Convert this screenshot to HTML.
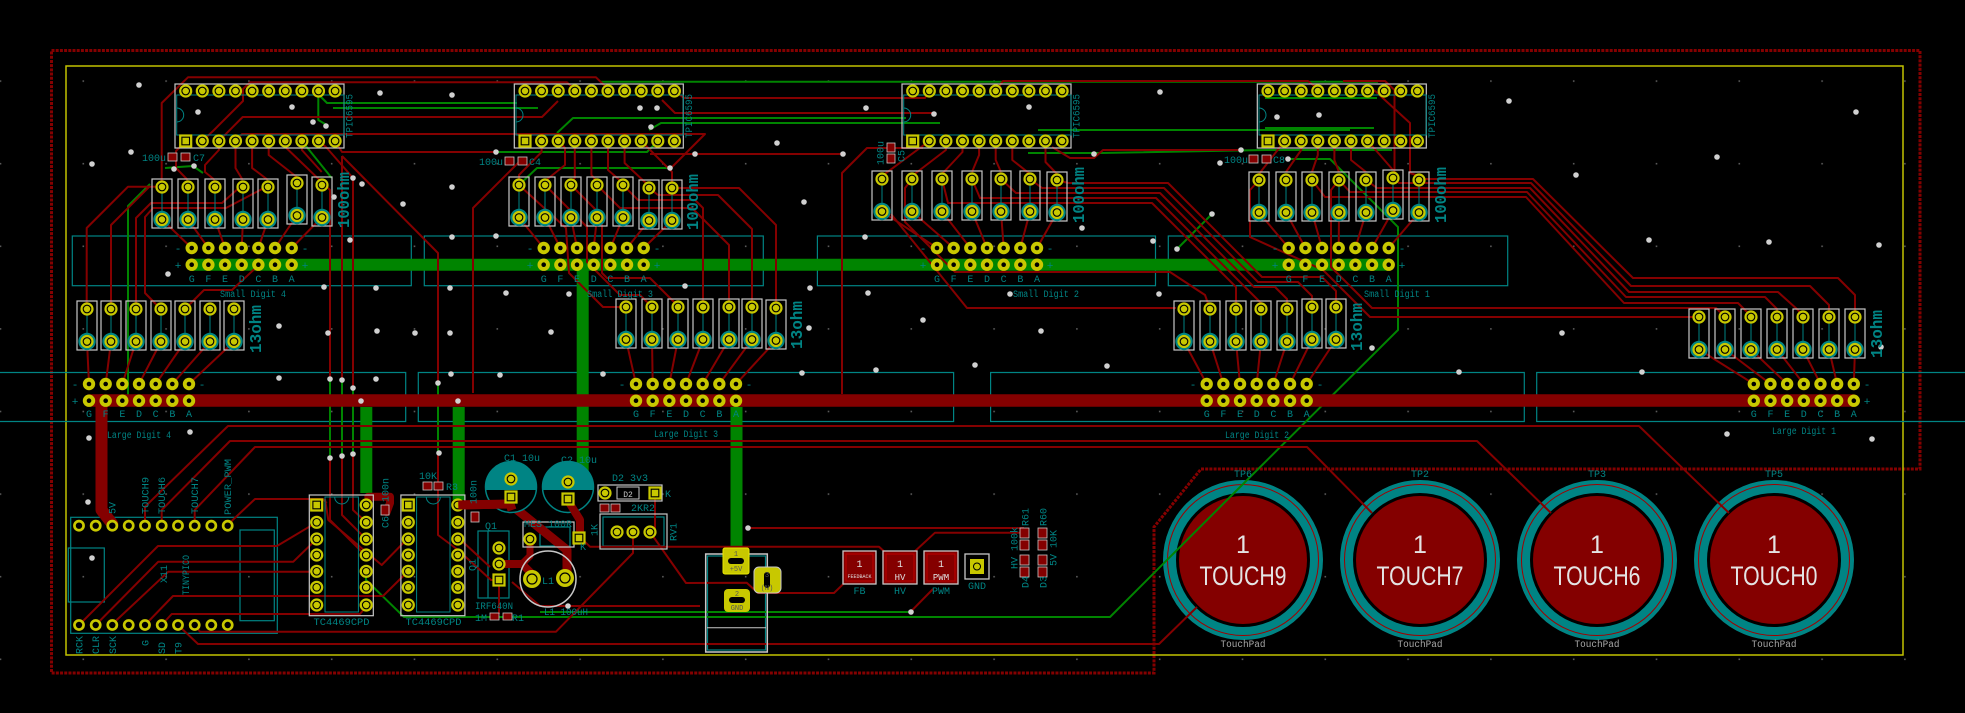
<!DOCTYPE html>
<html><head><meta charset="utf-8"><style>
html,body{margin:0;padding:0;background:#000;}
svg{display:block;}
text{font-family:"Liberation Mono","DejaVu Sans Mono",monospace;}
</style></head><body>
<svg width="1965" height="713" viewBox="0 0 1965 713" xmlns="http://www.w3.org/2000/svg">
<defs>
<pattern id="grid" x="-0.3" y="-2.3" width="82.8" height="82.6" patternUnits="userSpaceOnUse"><rect x="0" y="0" width="1.6" height="1.6" fill="#5a5a5a"/></pattern>
<g id="p"><circle r="6.6" fill="#c8c800"/><circle r="3.8" fill="none" stroke="#000" stroke-width="1.1"/></g>
<g id="q"><rect x="-6.6" y="-6.6" width="13.2" height="13.2" fill="#c8c800"/><rect x="-3.8" y="-3.8" width="7.6" height="7.6" fill="none" stroke="#000" stroke-width="1.1"/></g>
<g id="d"><circle r="6.2" fill="#c8c800"/><circle r="2.3" fill="#000"/></g>
<g id="t"><circle r="5.9" fill="#c8c800"/><circle r="3.2" fill="#000"/></g>
<g id="r"><rect x="-10" y="-8" width="20" height="49" fill="none" stroke="#c8c8c8" stroke-width="1.2"/><line x1="0" y1="6" x2="0" y2="26" stroke="#008484" stroke-width="1"/><circle cy="32.5" r="8.7" fill="#008484"/><use href="#p"/><use href="#p" y="32.5"/></g>
<g id="chip"><rect x="-10.7" y="-7" width="169" height="64" fill="none" stroke="#c8c8c8" stroke-width="1.2"/><rect x="-9" y="4" width="167.3" height="40" fill="none" stroke="#008484" stroke-width="1"/><path d="M-9,17a7,7 0 0 1 0,14" fill="none" stroke="#008484" stroke-width="1"/>
<use href="#p"/><use href="#p" x="16.6"/><use href="#p" x="33.2"/><use href="#p" x="49.8"/><use href="#p" x="66.4"/><use href="#p" x="83"/><use href="#p" x="99.6"/><use href="#p" x="116.2"/><use href="#p" x="132.8"/><use href="#p" x="149.4"/>
<use href="#q" y="50"/><use href="#p" x="16.6" y="50"/><use href="#p" x="33.2" y="50"/><use href="#p" x="49.8" y="50"/><use href="#p" x="66.4" y="50"/><use href="#p" x="83" y="50"/><use href="#p" x="99.6" y="50"/><use href="#p" x="116.2" y="50"/><use href="#p" x="132.8" y="50"/><use href="#p" x="149.4" y="50"/></g>
<g id="row"><use href="#d"/><use href="#d" x="16.67"/><use href="#d" x="33.33"/><use href="#d" x="50"/><use href="#d" x="66.67"/><use href="#d" x="83.33"/><use href="#d" x="100"/>
<use href="#d" y="16.7"/><use href="#d" x="16.67" y="16.7"/><use href="#d" x="33.33" y="16.7"/><use href="#d" x="50" y="16.7"/><use href="#d" x="66.67" y="16.7"/><use href="#d" x="83.33" y="16.7"/><use href="#d" x="100" y="16.7"/></g>
<g id="tc"><rect x="-7.4" y="-10" width="64" height="120.7" fill="none" stroke="#c8c8c8" stroke-width="1.2"/><rect x="8.3" y="-8" width="33.4" height="115" fill="none" stroke="#008484" stroke-width="1"/><path d="M18,-8a7,7 0 0 0 14,0" fill="none" stroke="#008484"/>
<use href="#q"/><use href="#p" y="17.3"/><use href="#p" y="34"/><use href="#p" y="50"/><use href="#p" y="66.3"/><use href="#p" y="82.3"/><use href="#p" y="100"/>
<use href="#p" x="49.5"/><use href="#p" x="49.5" y="17.3"/><use href="#p" x="49.5" y="34"/><use href="#p" x="49.5" y="50"/><use href="#p" x="49.5" y="66.3"/><use href="#p" x="49.5" y="82.3"/><use href="#p" x="49.5" y="100"/></g>
<g id="tp"><circle r="80" fill="#008484"/><circle r="67" fill="#000"/><circle r="64" fill="#840000"/><circle r="75.5" fill="none" stroke="#a00000" stroke-width="1"/></g>
</defs>

<rect width="1965" height="713" fill="#000"/>
<rect width="1965" height="713" fill="url(#grid)"/>

<!-- board outlines -->
<path d="M51.5,50.5 L1920,50.5 L1920,469 L1201,469 L1154,527 L1154,673 L51.5,673 Z" fill="none" stroke="#840000" stroke-width="3" stroke-dasharray="3 1.2"/>
<rect x="66" y="66" width="1837" height="589" fill="none" stroke="#c2c200" stroke-width="1.5"/>

<!-- teal display boxes -->
<g fill="none" stroke="#008484" stroke-width="1.2">
<rect x="72.3" y="236" width="339" height="49.7"/>
<rect x="424.3" y="236" width="339" height="49.7"/>
<rect x="817.4" y="236" width="338.1" height="49.7"/>
<rect x="1168.3" y="236" width="339.4" height="49.7"/>
<path d="M0,372.5 H405.7 V421.5 H0 M418.3,372.5 H953.6 V421.5 H418.3 Z M990.6,372.5 H1524.3 V421.5 H990.6 Z M1965,372.5 H1536.7 V421.5 H1965"/>
<rect x="70.7" y="517.3" width="206.6" height="116"/>
<rect x="68.3" y="548" width="36" height="54"/>
<rect x="240" y="530" width="34.3" height="90.7"/>
<rect x="478" y="531" width="31" height="67"/>
<line x1="488" y1="531" x2="488" y2="598"/>
<rect x="540" y="527" width="30" height="19"/>
<rect x="603" y="517" width="61" height="29"/>
<rect x="707.5" y="556" width="58" height="94"/>
</g>

<!-- touch pads -->
<use href="#tp" x="1243" y="560"/>
<use href="#tp" x="1420" y="560"/>
<use href="#tp" x="1597" y="560"/>
<use href="#tp" x="1774" y="560"/>

<!-- thick green -->
<g stroke="#008400" stroke-linecap="round" fill="none">
<line x1="192.7" y1="264.7" x2="1387" y2="264.7" stroke-width="12"/>
<line x1="582.7" y1="264" x2="582.7" y2="490" stroke-width="12" stroke-linecap="butt"/>
<line x1="366.3" y1="407" x2="366.3" y2="493" stroke-width="12" stroke-linecap="butt"/>
<line x1="458.7" y1="407" x2="458.7" y2="500" stroke-width="12" stroke-linecap="butt"/>
<line x1="736.5" y1="407" x2="736.5" y2="547" stroke-width="12" stroke-linecap="butt"/>
</g>

<!-- thin green traces -->
<g stroke="#008400" stroke-width="2" fill="none" stroke-linejoin="round">
<polyline points="600,81.7 1378,81.7"/>
<polyline points="317,93 327,103 517,103"/>
<polyline points="333,108 538,108"/>
<polyline points="496,152 647,152 658,141"/>
<polyline points="519,185 537,168 670,168"/>
<polyline points="557,133 573,118 906,118"/>
<polyline points="649,130 661,123 940,123"/>
<polyline points="1038,130 1350,130"/>
<polyline points="1265,98 1377,98"/>
<polyline points="1265,128 1374,128"/>
<polyline points="1028,153 1100,153 1265,150 1392,150"/>
<polyline points="1287,159 1330,159 1398,227 1398,330 1230,497 1110,617 404,617 366,580 366,572"/>
<polyline points="540,612 911,612"/>
<polyline points="150,184 128,206 128,395"/>
<polyline points="165,168 193,166 203,173"/>
<polyline points="301.9,141 331.7,178"/>
<polyline points="318.3,95 318.3,120 326.7,125"/>
<polyline points="330,379 330,458"/>
<polyline points="342,380 342,456"/>
<polyline points="353,388 353,454"/>
<polyline points="438,383 438,453"/>
<polyline points="1212,214 1177,249"/>
</g>

<!-- thin red traces -->
<g stroke="#840000" stroke-width="2" fill="none" stroke-linejoin="round">
<polyline points="161.7,186.7 161.7,103 188,77.3 596,77.3 608,89"/>
<polyline points="202.3,141 213,131 243,101 243,89 250,82.3 567,82.3 575,90"/>
<polyline points="218.9,141 242.7,117 542,117 558,101"/>
<polyline points="235.5,141 242,134 705,134 672,167"/>
<polyline points="335.1,141 342,152 496,152"/>
<polyline points="342,156 342,380"/>
<polyline points="342,156 438,253 438,383"/>
<polyline points="473,393 473,208 513,168 520,161"/>
<polyline points="285.3,141 285.3,147 330,190 330,379"/>
<polyline points="318.5,141 326,147 353,178 353,388"/>
<polyline points="86.7,309 86.7,228 128,186.7 162,186.7"/>
<polyline points="111,309 111,225 150,186"/>
<polyline points="136,309 136,218 151,203 222,203 240,187"/>
<polyline points="160.7,309 145,293 145,217 153,208 226,208 266,187"/>
<polyline points="185,309 204,290 232,290 262,262"/>
<polyline points="235.5,141 235.5,168 242.7,180"/>
<polyline points="252.1,141 252.1,168 268,180"/>
<polyline points="268.7,141 268.7,155 296.7,177"/>
<polyline points="301.9,141 301.9,150 321.7,172"/>
<polyline points="185.7,141 176,151 176,168 187.7,180"/>
<polyline points="218.9,141 218.9,150 205,165 205,172 214.7,180"/>
<path d="M162,219.5L191.7,248M188,219.5L208.4,248M215,219.5L225,248M243,219.5L241.7,248M268,219.5L258.4,248M296.7,215.5L275,248M321.7,217.5L291.7,248"/>
<path d="M87,341.5L89,384M111,341.5L105.7,384M136,341.5L122.3,384M161,341.5L139,384M185,341.5L155.7,384M210,341.5L172.3,384M234,341.5L189,384"/>
<polyline points="558.2,141 565,148 565,165 545,181"/>
<polyline points="574.8,141 574.8,178 570.7,183"/>
<polyline points="591.4,141 591.4,175 597,181"/>
<polyline points="608,141 608,170 623,183"/>
<polyline points="624.6,141 624.6,163 649,186"/>
<polyline points="641.2,141 672,172 672,186"/>
<polyline points="541.6,141 541.6,152 519,175 519,183"/>
<path d="M519,217.5L543.7,248M545,217.5L560.4,248M571,217.5L577,248M597,217.5L593.7,248M623,217.5L610.4,248M649,220.5L627,248M672,220.5L643.7,248"/>
<polyline points="672,188 739,188 776,225 776,308"/>
<polyline points="649,188 658,195 718,195 752,229 752,307"/>
<polyline points="623,185 638,200 695,200 703,208 703,307"/>
<polyline points="597,185 620,208 692,208 729,245 729,307"/>
<polyline points="571,185 602,216 602,273 607,278 650,278 678,306"/>
<polyline points="545,185 587,227 587,262 620,295 640,295 652,307"/>
<polyline points="519,185 566,228 569,273 603,307 626,307"/>
<path d="M626,339.5L636,384M652,339.5L652.7,384M678,339.5L669.3,384M703,339.5L686,384M729,339.5L702.7,384M752,339.5L719.3,384M776,340.5L736,384"/>
<polyline points="929.3,141 882,176"/>
<polyline points="945.9,141 945.9,150 912,176"/>
<polyline points="962.5,141 962.5,152 942,174"/>
<polyline points="979.1,141 979.1,155 972,172"/>
<polyline points="995.7,141 995.7,160 1001,172"/>
<polyline points="1012.3,141 1012.3,160 1030,174"/>
<polyline points="1045.5,141 1045.5,162 1057,174"/>
<path d="M882,211.5L937,248M912,211.5L953.7,248M942,211.5L970.3,248M972,211.5L987,248M1001,211.5L1003.7,248M1030,211.5L1020.3,248M1057,212.5L1037,248"/>
<polyline points="1057,180 1068,183 1168,183 1262,277 1322,277 1336,291 1336,307"/>
<polyline points="1030,179 1042,188 1164,188 1258,282 1298,282 1312,296 1312,307"/>
<polyline points="1001,179 1016,193 1160,193 1254,287 1275,287 1287,299 1287,309"/>
<polyline points="972,179 980,198 1156,198 1251,293 1261,303 1261,309"/>
<polyline points="942,179 948,203 1152,203 1236,287 1236,309"/>
<polyline points="912,179 905,188 905,222 955,272 1170,272 1205,295 1210,309"/>
<polyline points="891,214 967,308 1176,308"/>
<path d="M1184,341.5L1206.7,384M1210,341.5L1223.4,384M1236,341.5L1240,384M1261,341.5L1256.7,384M1287,341.5L1273.4,384M1312,339.5L1290,384M1336,339.5L1306.7,384"/>
<polyline points="1284.6,141 1259,174"/>
<polyline points="1301.2,141 1301.2,150 1286,172"/>
<polyline points="1317.8,141 1317.8,155 1312,172"/>
<polyline points="1334.4,141 1334.4,160 1339,172"/>
<polyline points="1351,141 1351,160 1366,172"/>
<polyline points="1367.6,141 1380,155 1393,170"/>
<polyline points="1343,81 1385,81 1394.5,90 1394.5,173"/>
<polyline points="1374,90 1410,123 1410,173 1419,176"/>
<path d="M1259,212.5L1288.7,248M1286,212.5L1305.4,248M1312,212.5L1322,248M1339,212.5L1338.7,248M1366,212.5L1355.4,248M1393,210.5L1372,248M1419,212.5L1388.7,248"/>
<polyline points="1419,180 1426,179 1533,179 1633,278 1838,278 1855,295 1855,317"/>
<polyline points="1393,178 1399,183 1531,183 1631,286 1810,286 1829,305 1829,317"/>
<polyline points="1366,180 1377,188 1530,188 1629,292 1778,292 1798,310 1803,317"/>
<polyline points="1339,180 1350,192 1527,192 1626,297 1765,297 1777,309 1777,317"/>
<polyline points="1312,180 1325,197 1526,197 1624,303 1738,303 1751,316"/>
<polyline points="1339,180 1331,190 1331,267 1372,308 1716,308 1725,317"/>
<polyline points="1259,180 1250,190 1250,237 1323,270 1370,317 1699,317"/>
<path d="M1699,349.5L1753.8,384M1725,349.5L1770.5,384M1751,349.5L1787.1,384M1777,349.5L1803.8,384M1803,349.5L1820.5,384M1829,349.5L1837.1,384M1855,349.5L1853.8,384"/>
<polyline points="674.4,91 684,98 925,98 929,91"/>
<polyline points="662,100 675,113 933,113"/>
<polyline points="995.7,91 1003,81 1308,81 1318,89"/>
<polyline points="1052,147 1070,158 1094,158 1103,150 1241,150"/>
<polyline points="650,154 843,154"/>
<polyline points="923,148 867,148 842,173 842,394"/>
<polyline points="145,525.7 145,506.7 228,426 1639,426 1729,513"/>
<polyline points="161.7,525.7 161.7,510 230,441 1477,441 1551,513"/>
<polyline points="194.7,525.7 194.7,510 255,447 1307,447 1372,513"/>
<polyline points="227.7,525.7 232.7,520 255,499 323,499 326.7,503"/>
<polyline points="325,499 328.3,520 381.7,565 403.3,543"/>
<polyline points="79,625 158,546 277,546 316.7,522.3"/>
<polyline points="95.7,625 158.3,561.7 293.3,561.7 316.7,539"/>
<polyline points="112.3,625 116.7,620 168.3,571.7 316.7,571.7"/>
<polyline points="145,625 173,596 383,596 408.3,571"/>
<polyline points="161.7,625 171.7,614 360,614 366,606.7"/>
<polyline points="178,625 198,644 1159,644 1197,607"/>
<polyline points="194.7,625 200,631.7 556,631.7 633,553 633,532"/>
<polyline points="330,458 330,520 360,550 366,555"/>
<polyline points="342,456 342,515 360,533 366,539"/>
<polyline points="353,454 353,510 366,522"/>
<polyline points="438,453 438,535 458,550 491,580 499,580"/>
<polyline points="463,542 490,567"/>
<polyline points="499,580 499,614"/>
<polyline points="512,582 540,606 700,606"/>
<polyline points="650,532 686,583 746.7,582.7 758,593 834,593 846.7,580.7"/>
<polyline points="580,537 590,546.7 879,546.7 887,554"/>
<polyline points="748,528 1024,528"/>
<polyline points="913,553 935,532.7 1020,532.7"/>
<polyline points="910.7,611.7 933,589"/>
<polyline points="655,493 655,532"/>
</g>

<!-- thick maroon -->
<g stroke="#840000" fill="none" stroke-linecap="round" stroke-linejoin="round">
<line x1="89.5" y1="400.5" x2="1853" y2="400.5" stroke-width="12.4"/>
<polyline points="101.5,400 101.5,510 112.3,524" stroke-width="12"/>
<polyline points="458.3,505 510,504 567,550 567,578" stroke-width="9"/>
<polyline points="567,499 580,520 580,537" stroke-width="8"/>
<polyline points="499,564 522,564 532,574 532,579" stroke-width="8"/>
<polyline points="522,564 530,556 530,541" stroke-width="7"/>
<polyline points="368.3,496.7 390,496.7 390,503 386.7,512" stroke-width="8"/>
</g>

<!-- chips -->
<use href="#chip" x="185.7" y="91"/>
<use href="#chip" x="525" y="91"/>
<use href="#chip" x="912.7" y="91"/>
<use href="#chip" x="1268" y="91"/>

<!-- resistors 100ohm -->
<use href="#r" x="162" y="187"/><use href="#r" x="188" y="187"/><use href="#r" x="215" y="187"/><use href="#r" x="243" y="187"/><use href="#r" x="268" y="187"/><use href="#r" x="297" y="183"/><use href="#r" x="322" y="185"/>
<use href="#r" x="519" y="185"/><use href="#r" x="545" y="185"/><use href="#r" x="571" y="185"/><use href="#r" x="597" y="185"/><use href="#r" x="623" y="185"/><use href="#r" x="649" y="188"/><use href="#r" x="672" y="188"/>
<use href="#r" x="882" y="179"/><use href="#r" x="912" y="179"/><use href="#r" x="942" y="179"/><use href="#r" x="972" y="179"/><use href="#r" x="1001" y="179"/><use href="#r" x="1030" y="179"/><use href="#r" x="1057" y="180"/>
<use href="#r" x="1259" y="180"/><use href="#r" x="1286" y="180"/><use href="#r" x="1312" y="180"/><use href="#r" x="1339" y="180"/><use href="#r" x="1366" y="180"/><use href="#r" x="1393" y="178"/><use href="#r" x="1419" y="180"/>
<!-- resistors 13ohm -->
<use href="#r" x="87" y="309"/><use href="#r" x="111" y="309"/><use href="#r" x="136" y="309"/><use href="#r" x="161" y="309"/><use href="#r" x="185" y="309"/><use href="#r" x="210" y="309"/><use href="#r" x="234" y="309"/>
<use href="#r" x="626" y="307"/><use href="#r" x="652" y="307"/><use href="#r" x="678" y="307"/><use href="#r" x="703" y="307"/><use href="#r" x="729" y="307"/><use href="#r" x="752" y="307"/><use href="#r" x="776" y="308"/>
<use href="#r" x="1184" y="309"/><use href="#r" x="1210" y="309"/><use href="#r" x="1236" y="309"/><use href="#r" x="1261" y="309"/><use href="#r" x="1287" y="309"/><use href="#r" x="1312" y="307"/><use href="#r" x="1336" y="307"/>
<use href="#r" x="1699" y="317"/><use href="#r" x="1725" y="317"/><use href="#r" x="1751" y="317"/><use href="#r" x="1777" y="317"/><use href="#r" x="1803" y="317"/><use href="#r" x="1829" y="317"/><use href="#r" x="1855" y="317"/>

<!-- display pin rows -->
<use href="#row" x="191.7" y="248"/>
<use href="#row" x="543.7" y="248"/>
<use href="#row" x="937" y="248"/>
<use href="#row" x="1288.7" y="248"/>
<use href="#row" x="89" y="384"/>
<use href="#row" x="636" y="384"/>
<use href="#row" x="1206.7" y="384"/>
<use href="#row" x="1753.8" y="384"/>

<!-- TinyPICO pads -->
<g>
<use href="#t" x="79" y="525.7"/><use href="#t" x="95.7" y="525.7"/><use href="#t" x="112.3" y="525.7"/><use href="#t" x="128.7" y="525.7"/><use href="#t" x="145" y="525.7"/><use href="#t" x="161.7" y="525.7"/><use href="#t" x="178" y="525.7"/><use href="#t" x="194.7" y="525.7"/><use href="#t" x="211.3" y="525.7"/><use href="#t" x="227.7" y="525.7"/>
<use href="#t" x="79" y="625"/><use href="#t" x="95.7" y="625"/><use href="#t" x="112.3" y="625"/><use href="#t" x="128.7" y="625"/><use href="#t" x="145" y="625"/><use href="#t" x="161.7" y="625"/><use href="#t" x="178" y="625"/><use href="#t" x="194.7" y="625"/><use href="#t" x="211.3" y="625"/><use href="#t" x="227.7" y="625"/>
</g>

<!-- TC4469 -->
<use href="#tc" x="316.7" y="505"/>
<use href="#tc" x="408.3" y="505"/>

<!-- caps C1 C2 -->
<circle cx="511" cy="487" r="25.5" fill="#000" stroke="#008484" stroke-width="1.5"/>
<path d="M485.7,490 A25.5,25.5 0 1 1 536.3,490 Z" fill="#008484"/>
<circle cx="568" cy="487" r="25.5" fill="#000" stroke="#008484" stroke-width="1.5"/>
<path d="M542.7,490 A25.5,25.5 0 1 1 593.3,490 Z" fill="#008484"/>
<polyline points="458.3,505 510,504 512,510" stroke="#840000" stroke-width="9" fill="none"/>
<polyline points="567,499 580,520" stroke="#840000" stroke-width="8" fill="none"/>
<use href="#p" x="511" y="479"/><use href="#q" x="511" y="497"/>
<use href="#p" x="568" y="482"/><use href="#q" x="568" y="499"/>

<!-- L1 -->
<circle cx="548" cy="579" r="28" fill="none" stroke="#c8c8c8" stroke-width="1.5"/>
<g><circle cx="532" cy="579" r="9" fill="#c8c800"/><circle cx="532" cy="579" r="5" fill="none" stroke="#000" stroke-width="1.2"/><circle cx="565" cy="578" r="9" fill="#c8c800"/><circle cx="565" cy="578" r="5" fill="none" stroke="#000" stroke-width="1.2"/></g>

<!-- Q1, D2, RV1, MES -->
<use href="#p" x="499" y="548"/><use href="#p" x="499" y="564"/><use href="#q" x="499" y="580"/>
<rect x="598" y="485" width="64" height="16" fill="none" stroke="#c8c8c8" stroke-width="1.2"/>
<rect x="617" y="487" width="22" height="12" fill="none" stroke="#c8c8c8" stroke-width="1"/>
<use href="#p" x="605" y="493"/><use href="#q" x="655" y="493"/>
<rect x="600" y="514" width="67" height="35" fill="none" stroke="#c8c8c8" stroke-width="1.2"/>
<use href="#p" x="617" y="532"/><use href="#p" x="633" y="532"/><use href="#p" x="650" y="532"/>
<rect x="523" y="522" width="51" height="25" fill="none" stroke="#c8c8c8" stroke-width="1.2"/>
<use href="#p" x="530" y="539"/><use href="#q" x="579" y="538"/>

<!-- jack -->
<rect x="705.7" y="554" width="61.6" height="98" fill="none" stroke="#c8c8c8" stroke-width="1.5"/>
<line x1="707" y1="627.7" x2="766" y2="627.7" stroke="#c8c8c8" stroke-width="1"/>
<rect x="723" y="548" width="26" height="26" rx="2" fill="#c8c800" stroke="#e8e800" stroke-width="1"/>
<rect x="728" y="558" width="16" height="6" rx="3" fill="#000"/>
<rect x="754" y="567" width="27" height="26" rx="5" fill="#c8c800" stroke="#c8c8c8" stroke-width="1"/>
<rect x="764" y="572" width="6" height="16" rx="3" fill="#000"/>
<rect x="724" y="589" width="26" height="23" rx="4" fill="#c8c800"/>
<rect x="729" y="597" width="16" height="6" rx="3" fill="#000"/>

<!-- test points -->
<g stroke="#c8c8c8" stroke-width="1.3">
<rect x="843" y="551" width="33" height="33" fill="#840000"/>
<rect x="883" y="551" width="34" height="33" fill="#840000"/>
<rect x="924" y="551" width="34" height="33" fill="#840000"/>
<rect x="965" y="554" width="24" height="25" fill="none"/>
</g>
<g fill="none" stroke="#c00000" stroke-width="1"><rect x="846" y="554" width="27" height="27"/><rect x="886" y="554" width="28" height="27"/><rect x="927" y="554" width="28" height="27"/></g>
<rect x="970" y="559" width="14" height="15" fill="#c8c800"/><circle cx="977" cy="566.5" r="3.5" fill="none" stroke="#000"/>

<!-- SMD parts -->
<g fill="#840000" stroke="#c8c8c8" stroke-width="0.8">
<rect x="168" y="153" width="9" height="8"/><rect x="181" y="153" width="9" height="8"/>
<rect x="505" y="157" width="9" height="8"/><rect x="518" y="157" width="9" height="8"/>
<rect x="1249" y="155" width="9" height="8"/><rect x="1262" y="155" width="9" height="8"/>
<rect x="887" y="143" width="8" height="9"/><rect x="887" y="154" width="8" height="9"/>
<rect x="423" y="482" width="9" height="8"/><rect x="434" y="482" width="9" height="8"/>
<rect x="381" y="505" width="8" height="10"/>
<rect x="471" y="512" width="8" height="10"/>
<rect x="600" y="504" width="9" height="8"/><rect x="611" y="504" width="9" height="8"/>
<rect x="490" y="613" width="9" height="7"/><rect x="503" y="613" width="9" height="7"/>
<rect x="1020" y="528" width="9" height="10"/><rect x="1020" y="540" width="9" height="10"/>
<rect x="1020" y="555" width="9" height="10"/><rect x="1020" y="567" width="9" height="10"/>
<rect x="1038" y="528" width="9" height="10"/><rect x="1038" y="540" width="9" height="10"/>
<rect x="1038" y="555" width="9" height="10"/><rect x="1038" y="567" width="9" height="10"/>
</g>

<!-- vias -->
<g fill="#d0d0d0">
<circle cx="139" cy="85" r="2.8"/><circle cx="198" cy="112" r="2.8"/><circle cx="292" cy="107" r="2.8"/><circle cx="313" cy="122" r="2.8"/><circle cx="326" cy="126" r="2.8"/><circle cx="131" cy="152" r="2.8"/><circle cx="92" cy="164" r="2.8"/><circle cx="174" cy="169" r="2.8"/><circle cx="194" cy="166" r="2.8"/><circle cx="353" cy="178" r="2.8"/><circle cx="362" cy="184" r="2.8"/><circle cx="334" cy="197" r="2.8"/><circle cx="403" cy="204" r="2.8"/><circle cx="380" cy="93" r="2.8"/><circle cx="452" cy="95" r="2.8"/><circle cx="496" cy="152" r="2.8"/><circle cx="452" cy="187" r="2.8"/><circle cx="350" cy="240" r="2.8"/><circle cx="452" cy="237" r="2.8"/><circle cx="496" cy="236" r="2.8"/><circle cx="168" cy="274" r="2.8"/><circle cx="324" cy="287" r="2.8"/><circle cx="376" cy="288" r="2.8"/><circle cx="450" cy="288" r="2.8"/><circle cx="506" cy="293" r="2.8"/><circle cx="279" cy="326" r="2.8"/><circle cx="328" cy="333" r="2.8"/><circle cx="377" cy="331" r="2.8"/><circle cx="415" cy="333" r="2.8"/><circle cx="450" cy="333" r="2.8"/><circle cx="551" cy="332" r="2.8"/><circle cx="569" cy="294" r="2.8"/><circle cx="685" cy="286" r="2.8"/><circle cx="695" cy="154" r="2.8"/><circle cx="670" cy="168" r="2.8"/><circle cx="777" cy="143" r="2.8"/><circle cx="640" cy="108" r="2.8"/><circle cx="657" cy="108" r="2.8"/><circle cx="651" cy="127" r="2.8"/><circle cx="279" cy="378" r="2.8"/><circle cx="330" cy="379" r="2.8"/><circle cx="342" cy="380" r="2.8"/><circle cx="353" cy="388" r="2.8"/><circle cx="376" cy="379" r="2.8"/><circle cx="438" cy="383" r="2.8"/><circle cx="451" cy="374" r="2.8"/><circle cx="500" cy="375" r="2.8"/><circle cx="603" cy="374" r="2.8"/><circle cx="361" cy="401" r="2.8"/><circle cx="458" cy="401" r="2.8"/><circle cx="190" cy="432" r="2.8"/><circle cx="89" cy="438" r="2.8"/><circle cx="88" cy="502" r="2.8"/><circle cx="92" cy="558" r="2.8"/><circle cx="330" cy="458" r="2.8"/><circle cx="342" cy="456" r="2.8"/><circle cx="353" cy="454" r="2.8"/><circle cx="439" cy="453" r="2.8"/><circle cx="568" cy="606" r="2.8"/><circle cx="802" cy="373" r="2.8"/><circle cx="876" cy="370" r="2.8"/><circle cx="975" cy="365" r="2.8"/><circle cx="1107" cy="366" r="2.8"/><circle cx="748" cy="528" r="2.8"/><circle cx="911" cy="612" r="2.8"/><circle cx="1459" cy="372" r="2.8"/><circle cx="1642" cy="372" r="2.8"/><circle cx="1727" cy="434" r="2.8"/><circle cx="1872" cy="439" r="2.8"/><circle cx="1509" cy="101" r="2.8"/><circle cx="1856" cy="112" r="2.8"/><circle cx="1717" cy="157" r="2.8"/><circle cx="1576" cy="175" r="2.8"/><circle cx="1649" cy="240" r="2.8"/><circle cx="1769" cy="242" r="2.8"/><circle cx="1879" cy="245" r="2.8"/><circle cx="1562" cy="333" r="2.8"/><circle cx="1372" cy="348" r="2.8"/><circle cx="1881" cy="347" r="2.8"/><circle cx="1277" cy="117" r="2.8"/><circle cx="1319" cy="115" r="2.8"/><circle cx="1288" cy="159" r="2.8"/><circle cx="1094" cy="154" r="2.8"/><circle cx="1241" cy="150" r="2.8"/><circle cx="1220" cy="163" r="2.8"/><circle cx="1212" cy="214" r="2.8"/><circle cx="1177" cy="249" r="2.8"/><circle cx="1082" cy="228" r="2.8"/><circle cx="1153" cy="241" r="2.8"/><circle cx="1159" cy="294" r="2.8"/><circle cx="866" cy="108" r="2.8"/><circle cx="934" cy="114" r="2.8"/><circle cx="1029" cy="107" r="2.8"/><circle cx="1160" cy="92" r="2.8"/><circle cx="843" cy="154" r="2.8"/><circle cx="804" cy="202" r="2.8"/><circle cx="865" cy="237" r="2.8"/><circle cx="868" cy="293" r="2.8"/><circle cx="810" cy="288" r="2.8"/><circle cx="1010" cy="294" r="2.8"/><circle cx="923" cy="320" r="2.8"/><circle cx="1041" cy="331" r="2.8"/><circle cx="809" cy="328" r="2.8"/>
</g>

<!-- teal labels -->
<g fill="#008484" font-size="10">
<text transform="translate(349,116) rotate(-90)" text-anchor="middle" dy="0.35em" textLength="44" lengthAdjust="spacingAndGlyphs">TPIC6595</text>
<text transform="translate(688.5,116) rotate(-90)" text-anchor="middle" dy="0.35em" textLength="44" lengthAdjust="spacingAndGlyphs">TPIC6595</text>
<text transform="translate(1076.2,116) rotate(-90)" text-anchor="middle" dy="0.35em" textLength="44" lengthAdjust="spacingAndGlyphs">TPIC6595</text>
<text transform="translate(1431.5,116) rotate(-90)" text-anchor="middle" dy="0.35em" textLength="44" lengthAdjust="spacingAndGlyphs">TPIC6595</text>
<text x="253" y="297" text-anchor="middle" textLength="66" lengthAdjust="spacingAndGlyphs">Small Digit 4</text>
<text x="620" y="297" text-anchor="middle" textLength="66" lengthAdjust="spacingAndGlyphs">Small Digit 3</text>
<text x="1046" y="297" text-anchor="middle" textLength="66" lengthAdjust="spacingAndGlyphs">Small Digit 2</text>
<text x="1397" y="297" text-anchor="middle" textLength="66" lengthAdjust="spacingAndGlyphs">Small Digit 1</text>
<text x="139" y="438" text-anchor="middle" textLength="64" lengthAdjust="spacingAndGlyphs">Large Digit 4</text>
<text x="686" y="437" text-anchor="middle" textLength="64" lengthAdjust="spacingAndGlyphs">Large Digit 3</text>
<text x="1257" y="438" text-anchor="middle" textLength="64" lengthAdjust="spacingAndGlyphs">Large Digit 2</text>
<text x="1804" y="434" text-anchor="middle" textLength="64" lengthAdjust="spacingAndGlyphs">Large Digit 1</text>
<text x="188.7" y="282" textLength="106" lengthAdjust="spacing">G F E D C B A</text>
<text x="540.7" y="282" textLength="106" lengthAdjust="spacing">G F E D C B A</text>
<text x="934" y="282" textLength="106" lengthAdjust="spacing">G F E D C B A</text>
<text x="1285.7" y="282" textLength="106" lengthAdjust="spacing">G F E D C B A</text>
<text x="86" y="417" textLength="106" lengthAdjust="spacing">G F E D C B A</text>
<text x="633" y="417" textLength="106" lengthAdjust="spacing">G F E D C B A</text>
<text x="1203.7" y="417" textLength="106" lengthAdjust="spacing">G F E D C B A</text>
<text x="1750.8" y="417" textLength="106" lengthAdjust="spacing">G F E D C B A</text>
</g>
<g fill="#008484" font-size="11" text-anchor="middle">
<text x="178" y="252">-</text><text x="305" y="252">-</text><text x="178" y="269">+</text><text x="305" y="269">+</text>
<text x="530" y="252">-</text><text x="657" y="252">-</text><text x="530" y="269">+</text><text x="657" y="269">+</text>
<text x="923" y="252">-</text><text x="1050" y="252">-</text><text x="923" y="269">+</text><text x="1050" y="269">+</text>
<text x="1275" y="252">-</text><text x="1402" y="252">-</text><text x="1275" y="269">+</text><text x="1402" y="269">+</text>
<text x="75" y="388">-</text><text x="202" y="388">-</text><text x="75" y="405">+</text>
<text x="622" y="388">-</text><text x="749" y="388">-</text>
<text x="1193" y="388">-</text><text x="1320" y="388">-</text>
<text x="1867" y="388">-</text><text x="1867" y="405">+</text>
</g>
<g fill="#008484" font-size="17" font-weight="bold">
<text transform="translate(343,200) rotate(-90)" text-anchor="middle" dy="0.35em" textLength="56" lengthAdjust="spacingAndGlyphs">100ohm</text>
<text transform="translate(692,202) rotate(-90)" text-anchor="middle" dy="0.35em" textLength="56" lengthAdjust="spacingAndGlyphs">100ohm</text>
<text transform="translate(1078,195) rotate(-90)" text-anchor="middle" dy="0.35em" textLength="56" lengthAdjust="spacingAndGlyphs">100ohm</text>
<text transform="translate(1440,195) rotate(-90)" text-anchor="middle" dy="0.35em" textLength="56" lengthAdjust="spacingAndGlyphs">100ohm</text>
<text transform="translate(255,329) rotate(-90)" text-anchor="middle" dy="0.35em" textLength="48" lengthAdjust="spacingAndGlyphs">13ohm</text>
<text transform="translate(796,325) rotate(-90)" text-anchor="middle" dy="0.35em" textLength="48" lengthAdjust="spacingAndGlyphs">13ohm</text>
<text transform="translate(1356,327) rotate(-90)" text-anchor="middle" dy="0.35em" textLength="48" lengthAdjust="spacingAndGlyphs">13ohm</text>
<text transform="translate(1876,334) rotate(-90)" text-anchor="middle" dy="0.35em" textLength="48" lengthAdjust="spacingAndGlyphs">13ohm</text>
</g>
<g fill="#008484" font-size="10">
<text x="142" y="161">100u</text><text x="193" y="161">C7</text>
<text x="479" y="165">100u</text><text x="529" y="165">C4</text>
<text x="1224" y="163">100u</text><text x="1273" y="163">C8</text>
<text transform="translate(880,153) rotate(-90)" text-anchor="middle" dy="0.35em">100u</text>
<text transform="translate(901,156) rotate(-90)" text-anchor="middle" dy="0.35em">C5</text>
<text transform="translate(112,514) rotate(-90)" dy="0.35em">5V</text>
<text transform="translate(145,514) rotate(-90)" dy="0.35em" textLength="37" lengthAdjust="spacingAndGlyphs">TOUCH9</text>
<text transform="translate(161.7,514) rotate(-90)" dy="0.35em" textLength="37" lengthAdjust="spacingAndGlyphs">TOUCH6</text>
<text transform="translate(194.7,514) rotate(-90)" dy="0.35em" textLength="37" lengthAdjust="spacingAndGlyphs">TOUCH7</text>
<text transform="translate(227.7,515) rotate(-90)" dy="0.35em" textLength="56" lengthAdjust="spacingAndGlyphs">POWER_PWM</text>
<text transform="translate(79,654) rotate(-90)" dy="0.35em" textLength="18" lengthAdjust="spacingAndGlyphs">RCK</text>
<text transform="translate(95.7,654) rotate(-90)" dy="0.35em" textLength="18" lengthAdjust="spacingAndGlyphs">CLR</text>
<text transform="translate(112.3,654) rotate(-90)" dy="0.35em" textLength="18" lengthAdjust="spacingAndGlyphs">SCK</text>
<text transform="translate(145,646) rotate(-90)" dy="0.35em">G</text>
<text transform="translate(161.7,654) rotate(-90)" dy="0.35em">SD</text>
<text transform="translate(178,654) rotate(-90)" dy="0.35em">T9</text>
<text transform="translate(163.3,574) rotate(-90)" text-anchor="middle" dy="0.35em">X11</text>
<text transform="translate(185.7,575) rotate(-90)" text-anchor="middle" dy="0.35em" textLength="40" lengthAdjust="spacingAndGlyphs">TINYPICO</text>
<text x="341.5" y="625" text-anchor="middle" textLength="56" lengthAdjust="spacingAndGlyphs">TC4469CPD</text>
<text x="433.5" y="625" text-anchor="middle" textLength="56" lengthAdjust="spacingAndGlyphs">TC4469CPD</text>
<text transform="translate(385,522) rotate(-90)" text-anchor="middle" dy="0.35em">C6</text>
<text transform="translate(385,490) rotate(-90)" text-anchor="middle" dy="0.35em">100n</text>
<text transform="translate(473,492) rotate(-90)" text-anchor="middle" dy="0.35em">100n</text>
<text x="428" y="479" text-anchor="middle">10K</text><text x="452" y="490" text-anchor="middle">R3</text>
<text x="522" y="461" text-anchor="middle">C1 10u</text><text x="579" y="463" text-anchor="middle">C2 10u</text>
<text x="491" y="529" text-anchor="middle">Q1</text>
<text transform="translate(472,565) rotate(-90)" text-anchor="middle" dy="0.35em">Q1</text>
<text x="494" y="609" text-anchor="middle" textLength="38" lengthAdjust="spacingAndGlyphs">IRF640N</text>
<text x="481" y="621" text-anchor="middle">1M</text><text x="518" y="621" text-anchor="middle">R1</text>
<text x="630" y="481" text-anchor="middle">D2 3v3</text>
<text x="628" y="497" text-anchor="middle" fill="#c8c8c8" font-size="8">D2</text>
<text x="668" y="497" text-anchor="middle">K</text>
<text x="643" y="511" text-anchor="middle">2KR2</text>
<text transform="translate(673,532) rotate(-90)" text-anchor="middle" dy="0.35em">RV1</text>
<text transform="translate(594,530) rotate(-90)" text-anchor="middle" dy="0.35em">1K</text>
<text x="548" y="527" text-anchor="middle">MES 100R</text>
<text x="583" y="550" text-anchor="middle">K</text>
<text x="548" y="584" text-anchor="middle">L1</text>
<text x="566" y="615" text-anchor="middle" textLength="44" lengthAdjust="spacingAndGlyphs">L1 100uH</text>
<text x="859.5" y="594" text-anchor="middle">FB</text>
<text x="900" y="594" text-anchor="middle">HV</text>
<text x="941" y="594" text-anchor="middle">PWM</text>
<text x="977" y="589" text-anchor="middle">GND</text>
<text transform="translate(1025,517) rotate(-90)" text-anchor="middle" dy="0.35em">R61</text>
<text transform="translate(1043,517) rotate(-90)" text-anchor="middle" dy="0.35em">R60</text>
<text transform="translate(1014,548) rotate(-90)" text-anchor="middle" dy="0.35em">HV 100k</text>
<text transform="translate(1053,548) rotate(-90)" text-anchor="middle" dy="0.35em">5V 10K</text>
<text transform="translate(1025,582) rotate(-90)" text-anchor="middle" dy="0.35em">D4</text>
<text transform="translate(1043,582) rotate(-90)" text-anchor="middle" dy="0.35em">D3</text>
<text x="1243" y="477" text-anchor="middle">TP6</text>
<text x="1420" y="477" text-anchor="middle">TP2</text>
<text x="1597" y="477" text-anchor="middle">TP3</text>
<text x="1774" y="477" text-anchor="middle">TP5</text>
</g>
<g fill="#e0e0e0" font-size="10" text-anchor="middle">
<text x="859.5" y="567">1</text><text x="900" y="567">1</text><text x="941" y="567">1</text>
<text x="900" y="580" font-size="9">HV</text><text x="941" y="580" font-size="9">PWM</text>
<text x="859.5" y="578" font-size="5">FEEDBACK</text>
</g>
<g fill="#555" font-size="7" text-anchor="middle">
<text x="736" y="556">1</text><text x="736" y="571">+5V</text>
<text x="767" y="577">3</text><text x="767" y="590">(N)</text>
<text x="737" y="596">2</text><text x="737" y="610">GND</text>
</g>

<!-- touch pad texts -->
<g fill="#e4e4e4" text-anchor="middle" font-family="Liberation Sans, sans-serif">
<text x="1243" y="553" font-size="25" style="font-family:'Liberation Sans',sans-serif">1</text>
<text x="1243" y="585" font-size="27" textLength="87" lengthAdjust="spacingAndGlyphs" style="font-family:'Liberation Sans',sans-serif">TOUCH9</text>
<text x="1420" y="553" font-size="25" style="font-family:'Liberation Sans',sans-serif">1</text>
<text x="1420" y="585" font-size="27" textLength="87" lengthAdjust="spacingAndGlyphs" style="font-family:'Liberation Sans',sans-serif">TOUCH7</text>
<text x="1597" y="553" font-size="25" style="font-family:'Liberation Sans',sans-serif">1</text>
<text x="1597" y="585" font-size="27" textLength="87" lengthAdjust="spacingAndGlyphs" style="font-family:'Liberation Sans',sans-serif">TOUCH6</text>
<text x="1774" y="553" font-size="25" style="font-family:'Liberation Sans',sans-serif">1</text>
<text x="1774" y="585" font-size="27" textLength="87" lengthAdjust="spacingAndGlyphs" style="font-family:'Liberation Sans',sans-serif">TOUCH0</text>
</g>
<g fill="#a8a8a8" font-size="10" text-anchor="middle">
<text x="1243" y="647" textLength="45" lengthAdjust="spacingAndGlyphs">TouchPad</text>
<text x="1420" y="647" textLength="45" lengthAdjust="spacingAndGlyphs">TouchPad</text>
<text x="1597" y="647" textLength="45" lengthAdjust="spacingAndGlyphs">TouchPad</text>
<text x="1774" y="647" textLength="45" lengthAdjust="spacingAndGlyphs">TouchPad</text>
</g>
</svg>
</body></html>
